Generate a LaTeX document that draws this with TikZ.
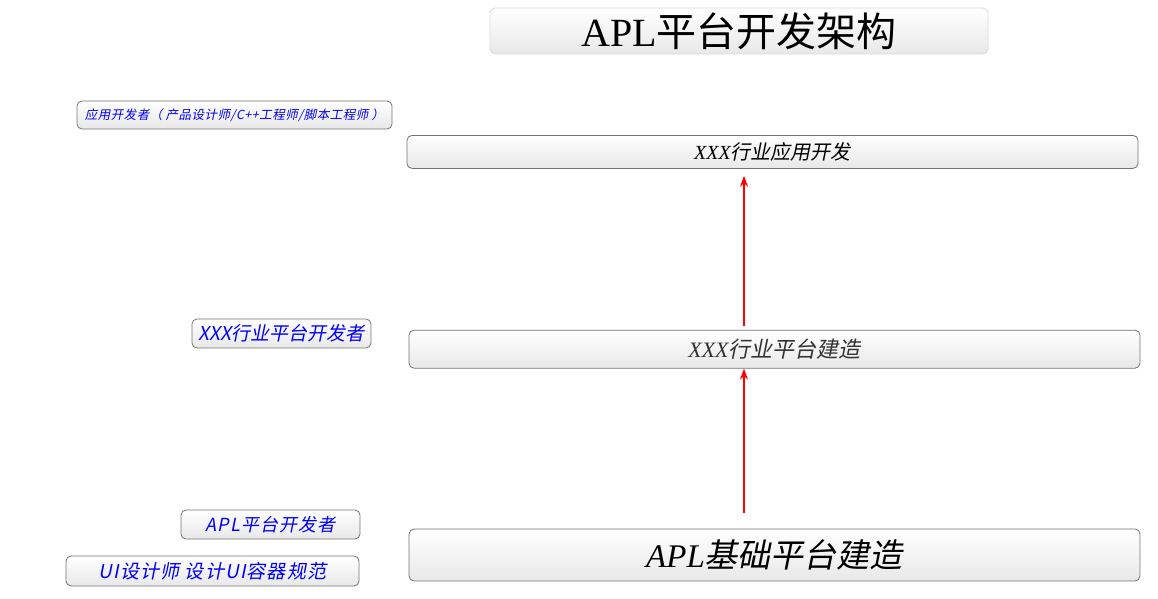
\documentclass[tikz,border=0pt]{standalone}
\usepackage{fontspec}
\setmainfont{Liberation Serif}
\newfontfamily\cjk{Noto Sans CJK SC}
\newfontfamily\cjkit{Noto Sans CJK SC}[FakeSlant=0.2]
\usetikzlibrary{positioning,arrows.meta}
\newcommand{\fs}[1]{\fontsize{#1}{#1}\selectfont}
\newcommand{\spaced}[1]{\addfontfeatures{LetterSpace=#1}}

\tikzset{
  layer/.style={draw=black!55, line width=0.8pt, rounded corners=5pt,
    top color=white, bottom color=black!9, inner sep=0pt},
  role/.style={layer, text=blue},
  flow/.style={draw=red, line width=1.6pt, -{Stealth[length=11pt,width=8pt]}}
}

\begin{document}
\begin{tikzpicture}[x=1pt,y=-1pt]
    \useasboundingbox (0,0) rectangle (1158,599);
    % title
    \node[layer, draw=black!15, minimum width=498pt, minimum height=46pt] (title) at (739,31)
        {\fs{40}APL\cjk 平台开发架构};
    % platform layers
    \node[layer, minimum width=731pt, minimum height=52pt] (base) at (774.5,555)
        {\fs{33}\itshape APL{\cjkit 基础平台建造}};
    \node[layer, minimum width=731pt, minimum height=38pt, above=160pt of base, text=black!80] (plat)
        {\fs{22}\itshape XXX{\cjkit 行业平台建造}};
    \node[layer, minimum width=731pt, minimum height=33pt, above=161pt of plat, xshift=-2pt] (app)
        {\fs{20}\itshape XXX{\cjkit 行业应用开发}};
    % roles
    \node[role, minimum width=315pt, minimum height=28pt] (appdev) at (234.5,115)
        {\fs{12.5}\cjkit\spaced{4}应用开发者（ 产品设计师/C++工程师/脚本工程师 ）};
    \node[role, minimum width=179pt, minimum height=29pt] (platdev) at (281.5,333.5)
        {\fs{19}\cjkit XXX行业平台开发者};
    \node[role, minimum width=179pt, minimum height=29pt] (apldev) at (270.5,524.5)
        {\fs{18}\cjkit\spaced{6}APL平台开发者};
    \node[role, minimum width=293pt, minimum height=30pt] (uidev) at (212.5,571)
        {\fs{19}\cjkit\spaced{6}UI设计师 设计UI容器规范};
    % arrows
    \coordinate (axis) at (744,0);
    \draw[flow, shorten <=16pt] (base.north -| axis) -- (plat.south -| axis);
    \draw[flow, shorten <=4pt, shorten >=7pt] (plat.north -| axis) -- (app.south -| axis);
\end{tikzpicture}
\end{document}
